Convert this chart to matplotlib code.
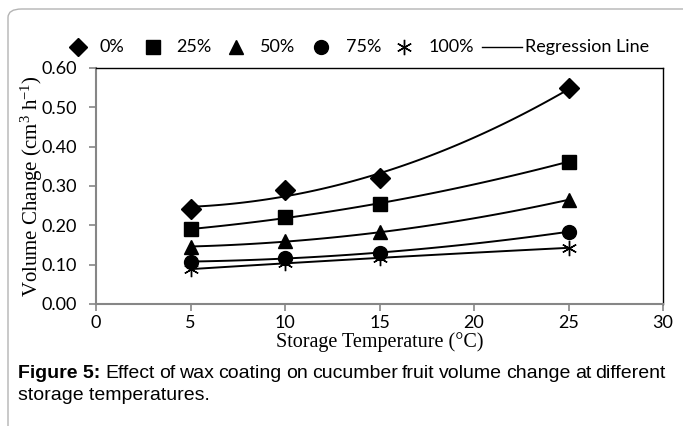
import numpy as np
import matplotlib.pyplot as plt
from matplotlib.patches import FancyBboxPatch
from matplotlib.lines import Line2D

plt.rcParams['mathtext.fontset'] = 'custom'
plt.rcParams['mathtext.rm'] = 'Liberation Serif'
plt.rcParams['mathtext.it'] = 'Liberation Serif:italic'

# data
temps = [5, 10, 15, 25]
wax_0 = [0.241, 0.290, 0.320, 0.548]
wax_25 = [0.190, 0.220, 0.255, 0.362]
wax_50 = [0.146, 0.159, 0.182, 0.265]
wax_75 = [0.107, 0.118, 0.129, 0.184]
wax_100 = [0.088, 0.105, 0.116, 0.143]

series = [wax_0, wax_25, wax_50, wax_75, wax_100]
labels = ['0%', '25%', '50%', '75%', '100%']
markers = ['D', 's', '^', 'o', (6, 2, 0)]
msizes = [10, 10, 10, 10, 11]

W, H = 683, 426
fig = plt.figure(figsize=(W / 100, H / 100), dpi=100)

# outer page frame (rounded top-left corner, runs off the edges)
frame = FancyBboxPatch((8 / W, -0.2), 1.2, 1.2 - 9 / H,
                       boxstyle="round,pad=0,rounding_size=0.02",
                       transform=fig.transFigure, fill=False,
                       edgecolor='#b4b4b4', linewidth=1.0, clip_on=False)
fig.patches.append(frame)

ax = fig.add_axes([96 / W, 1 - 304 / H, (663 - 96) / W, (304 - 68) / H])

x_fit = np.linspace(5, 25, 100)
for vals, mk, ms in zip(series, markers, msizes):
    # 2nd order polynomial trendline
    coef = np.polyfit(temps, vals, 2)
    ax.plot(x_fit, np.polyval(coef, x_fit), color='black', linewidth=1.4, zorder=2)
    ax.plot(temps, vals, linestyle='none', marker=mk, markersize=ms,
            color='black', markeredgewidth=1.0, zorder=3)

ax.set_xlim(0, 30)
ax.set_ylim(0, 0.6)
ax.set_xticks([0, 5, 10, 15, 20, 25, 30])
yt = np.arange(0, 0.61, 0.1)
ax.set_yticks(yt)
ax.set_yticklabels([f'{v:.2f}' for v in yt])

for lab in ax.get_xticklabels() + ax.get_yticklabels():
    lab.set_fontfamily('Lato')
    lab.set_fontsize(13)

ax.tick_params(axis='both', color='#868686', width=1.2, length=5)
ax.tick_params(axis='x', pad=3)
ax.tick_params(axis='y', pad=9)
for s in ['left', 'bottom']:
    ax.spines[s].set_color('#868686')
    ax.spines[s].set_linewidth(1.5)
for s in ['top', 'right']:
    ax.spines[s].set_color('black')
    ax.spines[s].set_linewidth(1.0)

ax.set_xlabel('Storage Temperature (°C)', fontfamily='Liberation Serif', fontsize=14.5, labelpad=1)
ax.set_ylabel('Volume Change (cm$^{3}$ h$^{-1}$)', fontfamily='Liberation Serif', fontsize=15)
ax.yaxis.set_label_coords(-0.09, 0.5)

# legend across the top, laid out by hand
leg_y = 1 - 47 / H
leg_marker_x = [78, 153, 236, 321, 404]
leg_text_x = [99, 176, 260, 346, 429]
leg_msizes = [9, 10, 10, 10, 11]
for mk, ms, mx, tx, lab in zip(markers, leg_msizes, leg_marker_x, leg_text_x, labels):
    fig.add_artist(Line2D([mx / W], [leg_y], marker=mk, markersize=ms, color='black',
                          linestyle='none', markeredgewidth=1.0, transform=fig.transFigure))
    fig.text(tx / W, leg_y, lab, fontfamily='Lato', fontsize=13, va='center', ha='left')
fig.add_artist(Line2D([482 / W, 522 / W], [leg_y, leg_y], color='black', linewidth=1.0,
                      transform=fig.transFigure))
fig.text(525 / W, leg_y, 'Regression Line', fontfamily='Lato', fontsize=13, va='center', ha='left')

# caption below the chart (first line justified)
cap_size = 14
renderer = fig.canvas.get_renderer()
head = fig.text(18 / W, 1 - 373 / H, 'Figure 5:', fontfamily='Liberation Sans', fontweight='bold',
                fontsize=cap_size, va='center', ha='left')
head_w = head.get_window_extent(renderer).width
words = 'Effect of wax coating on cucumber fruit volume change at different'.split()
texts = []
widths = []
for w in words:
    t = fig.text(0, 1 - 373 / H, w, fontfamily='Liberation Sans', fontsize=cap_size,
                 va='center', ha='left')
    texts.append(t)
    widths.append(t.get_window_extent(renderer).width)
x0, x1 = 18 + head_w + 5, 666
gap = (x1 - x0 - sum(widths)) / (len(words) - 1)
xpos = x0
for t, wdt in zip(texts, widths):
    t.set_x(xpos / W)
    xpos += wdt + gap
fig.text(18 / W, 1 - 396 / H, 'storage temperatures.',
         fontfamily='Liberation Sans', fontsize=cap_size, va='center', ha='left')

fig.savefig('out.png', dpi=100)
